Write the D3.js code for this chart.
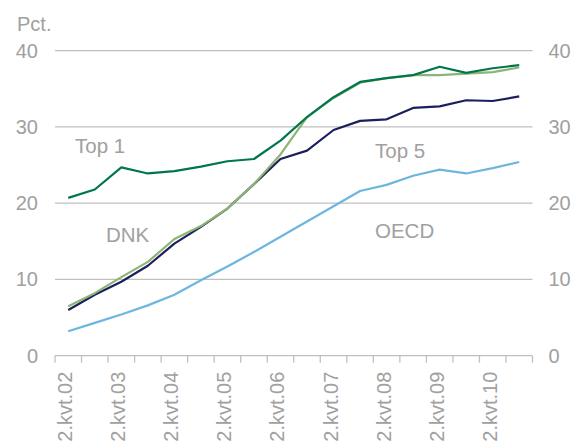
<!DOCTYPE html>
<html>
<head>
<meta charset="utf-8">
<script src="https://cdn.jsdelivr.net/npm/d3@7"></script>
<style>
  html, body { margin: 0; padding: 0; background: #fff; }
  svg { display: block; font-family: "Liberation Sans", Arial, sans-serif; }
</style>
</head>
<body>
<svg id="chart" width="582" height="445"></svg>
<script>
// Semi-annual periods (2.kvt.02 ... 4.kvt.10)
const periods = ["2.kvt.02","4.kvt.02","2.kvt.03","4.kvt.03","2.kvt.04","4.kvt.04",
                 "2.kvt.05","4.kvt.05","2.kvt.06","4.kvt.06","2.kvt.07","4.kvt.07",
                 "2.kvt.08","4.kvt.08","2.kvt.09","4.kvt.09","2.kvt.10","4.kvt.10"];
const tickLabels = ["2.kvt.02","2.kvt.03","2.kvt.04","2.kvt.05","2.kvt.06","2.kvt.07","2.kvt.08","2.kvt.09","2.kvt.10"];
const yTicks = [0, 10, 20, 30, 40];

const top1 = [20.7, 21.8, 24.7, 23.9, 24.2, 24.8, 25.5, 25.8, 28.2, 31.3, 33.9, 35.9, 36.4, 36.8, 37.9, 37.1, 37.7, 38.1];
const dnk  = [6.5, 8.2, 10.3, 12.3, 15.3, 17.0, 19.3, 22.5, 26.4, 31.3, 33.8, 35.8, 36.4, 36.8, 36.8, 37.0, 37.2, 37.8];
const top5 = [6.0, 8.0, 9.7, 11.8, 14.7, 16.9, 19.3, 22.5, 25.8, 26.9, 29.6, 30.8, 31.0, 32.5, 32.7, 33.5, 33.4, 34.0];
const oecd = [3.2, 4.3, 5.4, 6.6, 8.0, 9.9, 11.7, 13.6, 15.6, 17.6, 19.6, 21.6, 22.4, 23.6, 24.4, 23.9, 24.6, 25.4];

const seriesNames = ["Top 1", "DNK", "Top 5", "OECD"];
const seriesValues = [top1, dnk, top5, oecd];
const seriesColors = ["#00774A", "#8DB474", "#1C1F5E", "#6DB7DE"];

const svg = d3.select("#chart");
const mLeft = 55, mRight = 532.5, mTop = 50.7, mBottom = 355.7;
const textColor = "#A0A0A0";
const gridColor = "#C0C0C0";

const x = d3.scaleBand().domain(periods).range([mLeft, mRight]).padding(0);
const y = d3.scaleLinear().domain([0, 40]).range([mBottom, mTop]);

// gridlines
svg.append("g").selectAll("line").data(yTicks.filter(d => d > 0)).join("line")
  .attr("x1", mLeft).attr("x2", mRight)
  .attr("y1", d => y(d)).attr("y2", d => y(d))
  .attr("stroke", gridColor).attr("stroke-width", 1.3);

// left axis
const yl = svg.append("g").attr("transform", `translate(${mLeft},0)`)
  .call(d3.axisLeft(y).tickValues(yTicks).tickSize(0).tickPadding(17));
yl.select(".domain").remove();
yl.selectAll("text").attr("fill", textColor).style("font-size", "20px")
  .style("font-family", "Liberation Sans, Arial, sans-serif");

// right axis
const yr = svg.append("g").attr("transform", `translate(${mRight},0)`)
  .call(d3.axisRight(y).tickValues(yTicks).tickSize(0).tickPadding(16));
yr.select(".domain").remove();
yr.selectAll("text").attr("fill", textColor).style("font-size", "20px")
  .style("font-family", "Liberation Sans, Arial, sans-serif");

// x axis line + ticks at band boundaries
svg.append("line").attr("x1", mLeft).attr("x2", mRight).attr("y1", mBottom).attr("y2", mBottom)
  .attr("stroke", gridColor).attr("stroke-width", 1.3);
const bounds = periods.map(p => x(p)).concat([x(periods[periods.length - 1]) + x.bandwidth()]);
svg.append("g").selectAll("line").data(bounds).join("line")
  .attr("x1", d => d).attr("x2", d => d)
  .attr("y1", mBottom).attr("y2", mBottom + 7)
  .attr("stroke", gridColor).attr("stroke-width", 1.3);

// x labels rotated
svg.append("g").selectAll("text").data(tickLabels).join("text")
  .attr("transform", d => `translate(${x(d) + x.bandwidth() / 2 + 4},${mBottom + 16}) rotate(-90)`)
  .attr("text-anchor", "end")
  .attr("fill", textColor).style("font-size", "20px")
  .text(d => d);

// Pct.
svg.append("text").attr("x", 17).attr("y", 31).attr("fill", textColor)
  .style("font-size", "20px").text("Pct.");

// lines
const line = d3.line().x((d, i) => x(periods[i]) + x.bandwidth() / 2).y(d => y(d));
const order = [3, 2, 1, 0];
svg.append("g").selectAll("path").data(order).join("path")
  .attr("d", i => line(seriesValues[i]))
  .attr("fill", "none")
  .attr("stroke", i => seriesColors[i])
  .attr("stroke-width", 2.2)
  .attr("stroke-linejoin", "round");

// series labels
const labelPos = [[75, 152.5], [106, 241.7], [375, 158.3], [375, 238.3]];
svg.append("g").selectAll("text").data(seriesNames).join("text")
  .attr("x", (d, i) => labelPos[i][0]).attr("y", (d, i) => labelPos[i][1])
  .attr("fill", textColor).style("font-size", "20.5px")
  .text(d => d);
</script>
</body>
</html>
